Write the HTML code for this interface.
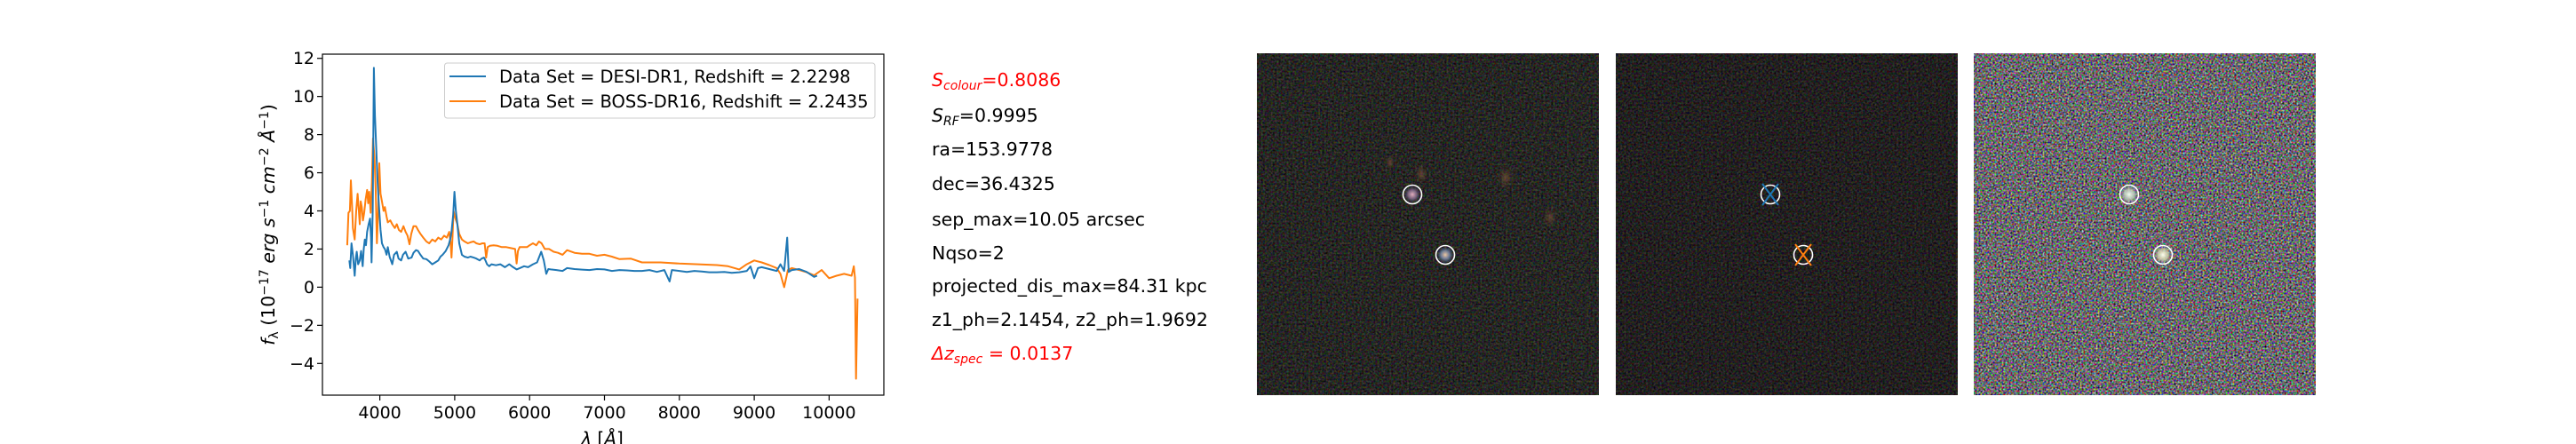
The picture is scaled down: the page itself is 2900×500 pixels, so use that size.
<!DOCTYPE html>
<html><head><meta charset="utf-8">
<style>
body{margin:0;background:#fff;}
#root{position:relative;width:2900px;height:500px;overflow:hidden;background:#fff;font-family:"DejaVu Sans","Liberation Sans",sans-serif;}
.info{position:absolute;left:1049px;font-size:20.5px;color:#000;white-space:nowrap;line-height:1;}
.red{color:#f00;}
.info sub{font-size:14px;vertical-align:-4px;}
</style></head>
<body>
<div id="root">
<svg id="chart" width="1050" height="500" style="position:absolute;left:0;top:0;" font-family="DejaVu Sans, Liberation Sans, sans-serif"></svg>

<div class="info red" style="top:80px"><i>S</i><sub><i>colour</i></sub>=0.8086</div>
<div class="info" style="top:120px"><i>S</i><sub><i>RF</i></sub>=0.9995</div>
<div class="info" style="top:158px">ra=153.9778</div>
<div class="info" style="top:197px">dec=36.4325</div>
<div class="info" style="top:237px">sep_max=10.05 arcsec</div>
<div class="info" style="top:275px">Nqso=2</div>
<div class="info" style="top:312px">projected_dis_max=84.31 kpc</div>
<div class="info" style="top:350px">z1_ph=2.1454, z2_ph=1.9692</div>
<div class="info red" style="top:388px"><i>Δz</i><sub><i>spec</i></sub> = 0.0137</div>

<svg width="2900" height="500" style="position:absolute;left:0;top:0;pointer-events:none">
<defs>
<filter id="nd" x="0" y="0" width="100%" height="100%" color-interpolation-filters="sRGB">
<feTurbulence type="fractalNoise" baseFrequency="0.45" numOctaves="2" seed="3"/>
<feColorMatrix values="0.5 0 0 0 -0.1  0 0.5 0 0 -0.1  0 0 0.5 0 -0.11  0 0 0 0 1"/>
</filter>
<filter id="nd2" x="0" y="0" width="100%" height="100%" color-interpolation-filters="sRGB">
<feTurbulence type="fractalNoise" baseFrequency="0.45" numOctaves="2" seed="11"/>
<feColorMatrix values="0.45 0 0 0 -0.09  0 0.45 0 0 -0.1  0 0 0.45 0 -0.1  0 0 0 0 1"/>
</filter>
<filter id="nb" x="0" y="0" width="100%" height="100%" color-interpolation-filters="sRGB">
<feTurbulence type="fractalNoise" baseFrequency="0.5" numOctaves="2" seed="7"/>
<feColorMatrix values="1.7 0 0 0 -0.43  0 1.7 0 0 -0.44  0 0 1.7 0 -0.42  0 0 0 0 1"/>
</filter>
<radialGradient id="g1"><stop offset="0" stop-color="#e6b0c0"/><stop offset="0.5" stop-color="#8a7090" stop-opacity="0.8"/><stop offset="1" stop-color="#303050" stop-opacity="0"/></radialGradient>
<radialGradient id="g2"><stop offset="0" stop-color="#f0c8a0"/><stop offset="0.5" stop-color="#7a8cb0" stop-opacity="0.8"/><stop offset="1" stop-color="#304060" stop-opacity="0"/></radialGradient>
<radialGradient id="g3"><stop offset="0" stop-color="#f4fff0"/><stop offset="0.6" stop-color="#b8c8b8" stop-opacity="0.8"/><stop offset="1" stop-color="#909090" stop-opacity="0"/></radialGradient>
<radialGradient id="g4"><stop offset="0" stop-color="#fffff0"/><stop offset="0.6" stop-color="#d0d0a8" stop-opacity="0.8"/><stop offset="1" stop-color="#909090" stop-opacity="0"/></radialGradient>
<radialGradient id="gf"><stop offset="0" stop-color="#8a6040" stop-opacity="0.6"/><stop offset="1" stop-color="#503020" stop-opacity="0"/></radialGradient>
</defs>
<g>
<rect x="1415" y="60" width="385" height="385" filter="url(#nd)"/>
<ellipse cx="1600" cy="196" rx="8" ry="12" fill="url(#gf)"/>
<ellipse cx="1695" cy="200" rx="10" ry="14" fill="url(#gf)"/>
<ellipse cx="1745" cy="245" rx="8" ry="12" fill="url(#gf)"/>
<ellipse cx="1565" cy="183" rx="6" ry="9" fill="url(#gf)"/>
<ellipse cx="1590" cy="219" rx="10" ry="10" fill="url(#g1)"/>
<ellipse cx="1627" cy="287" rx="10" ry="10" fill="url(#g2)"/>
<circle cx="1590" cy="219" r="10.5" fill="none" stroke="#fff" stroke-width="1.6"/>
<circle cx="1627" cy="287" r="10.5" fill="none" stroke="#fff" stroke-width="1.6"/>
</g>
<g>
<rect x="1819" y="60" width="385" height="385" filter="url(#nd2)"/>
<circle cx="1993" cy="219" r="10.5" fill="none" stroke="#fff" stroke-width="1.6"/>
<path d="M1984 207 L2002 231 M2002 207 L1984 231" stroke="#1f77b4" stroke-width="2"/>
<circle cx="2030" cy="287" r="10.5" fill="none" stroke="#fff" stroke-width="1.6"/>
<path d="M2021 275 L2039 299 M2039 275 L2021 299" stroke="#ff7f0e" stroke-width="2"/>
</g>
<g>
<rect x="2222" y="60" width="385" height="385" filter="url(#nb)"/>
<ellipse cx="2397" cy="219" rx="10" ry="10" fill="url(#g3)"/>
<ellipse cx="2435" cy="287" rx="10" ry="10" fill="url(#g4)"/>
<circle cx="2397" cy="219" r="10.5" fill="none" stroke="#fff" stroke-width="1.6"/>
<circle cx="2435" cy="287" r="10.5" fill="none" stroke="#fff" stroke-width="1.6"/>
</g>
</svg>
</div>
<script>
const xTicks=[4000,5000,6000,7000,8000,9000,10000];
const yTicks=[-4,-2,0,2,4,6,8,10,12];
const waveBlue=[3593,3605,3621,3640,3664,3680,3692,3710,3732,3750,3771,3785,3799,3815,3830,3850,3870,3882,3890,3905,3921,3935,3949,3970,3989,4010,4028,4050,4068,4090,4107,4130,4166,4190,4226,4250,4285,4310,4344,4380,4424,4450,4483,4510,4542,4580,4621,4660,4700,4740,4780,4810,4839,4880,4918,4940,4957,4980,4997,5015,5036,5060,5096,5130,5175,5210,5254,5290,5333,5360,5392,5410,5432,5460,5491,5550,5610,5670,5728,5780,5827,5870,5926,5980,6045,6100,6155,6190,6223,6250,6282,6360,6440,6500,6600,6700,6800,6900,7000,7100,7200,7300,7400,7500,7600,7700,7800,7870,7900,8000,8100,8200,8300,8400,8500,8600,8700,8800,8900,8950,9000,9050,9100,9200,9300,9350,9400,9440,9460,9500,9600,9700,9800,9840];
const fluxBlue=[1.4,1.0,2.3,1.7,0.6,1.5,1.86,1.2,1.4,1.9,1.1,2.0,2.5,2.2,2.9,3.3,3.6,2.6,1.3,4.0,11.5,9.0,7.6,5.5,4.2,3.0,2.3,2.1,2.0,1.7,2.1,1.6,1.2,1.7,1.86,1.5,1.4,1.7,1.86,1.5,1.55,1.8,1.94,1.9,1.7,1.5,1.47,1.35,1.2,1.3,1.4,1.6,1.7,1.9,2.2,2.5,2.9,3.8,5.0,4.0,3.3,2.3,1.7,1.6,1.55,1.6,1.55,1.5,1.4,1.5,1.55,1.4,1.2,1.1,1.2,1.15,1.2,1.05,1.2,1.05,0.93,1.0,1.1,1.05,1.2,1.3,1.86,1.4,0.7,0.95,0.93,0.9,0.85,1.0,0.95,0.92,0.9,0.95,0.93,0.85,0.9,0.88,0.85,0.85,0.9,0.8,0.9,0.3,0.9,0.85,0.8,0.85,0.82,0.78,0.78,0.8,0.75,0.78,0.85,1.09,0.47,1.0,1.05,0.95,0.85,1.2,0.85,2.6,0.8,0.9,0.95,0.8,0.54,0.6];
const waveOrange=[3565,3581,3600,3613,3630,3641,3664,3685,3704,3720,3732,3745,3759,3775,3791,3810,3830,3845,3858,3870,3878,3895,3909,3920,3929,3945,3961,3978,3993,4010,4028,4050,4068,4090,4107,4140,4166,4200,4226,4255,4285,4315,4344,4370,4396,4420,4450,4483,4510,4542,4580,4621,4660,4700,4740,4780,4820,4859,4895,4926,4945,4957,4970,4985,5010,5036,5060,5096,5130,5175,5210,5254,5290,5333,5370,5400,5420,5440,5471,5520,5570,5630,5689,5750,5807,5827,5845,5867,5920,5966,6000,6045,6090,6124,6160,6203,6260,6322,6380,6440,6500,6600,6700,6800,6900,7000,7100,7200,7350,7500,7750,8000,8250,8500,8650,8800,8900,9000,9100,9200,9300,9350,9400,9450,9500,9600,9700,9800,9900,10000,10100,10200,10300,10330,10345,10360,10380];
const fluxOrange=[2.2,3.9,4.0,5.6,4.2,3.1,2.5,4.0,4.9,4.0,3.3,4.5,4.2,3.5,3.9,4.6,5.1,4.4,5.0,4.4,3.9,5.5,7.8,7.2,6.8,5.0,2.3,4.0,6.5,4.9,4.5,4.0,4.2,3.7,3.4,3.5,3.3,3.1,3.3,3.0,2.9,3.2,2.9,2.7,2.25,2.8,3.2,3.2,3.0,2.8,2.6,2.4,2.3,2.5,2.4,2.6,2.5,2.7,2.6,2.9,2.3,1.55,2.6,4.0,3.6,3.3,2.8,2.5,2.4,2.3,2.35,2.4,2.3,2.25,2.3,2.3,1.55,2.1,2.17,2.2,2.17,2.1,2.1,2.05,2.0,1.24,1.9,2.1,2.1,2.1,2.2,2.3,2.2,2.4,2.3,2.0,2.0,1.86,1.8,1.7,1.94,1.8,1.75,1.75,1.65,1.7,1.6,1.47,1.5,1.3,1.3,1.24,1.2,1.16,1.1,0.93,1.2,1.4,1.3,1.16,1.0,0.7,0.0,0.9,1.0,0.9,0.78,0.62,0.9,0.47,0.6,0.7,0.6,1.1,0.5,-4.8,-0.6];

const NS='http://www.w3.org/2000/svg';
const svg=document.getElementById('chart');
const L=363,R=995,T=61,B=445;
function xs(v){return 427.6+(v-4000)*0.0843;}
function ys(v){return 65.7+(12-v)*21.475;}
function mk(tag,attrs,parent){const e=document.createElementNS(NS,tag);for(const k in attrs)e.setAttribute(k,attrs[k]);(parent||svg).appendChild(e);return e;}
const frame=mk('rect',{x:L,y:T,width:R-L,height:B-T,fill:'#fff',stroke:'none'});


function series(w,f,color,name){
  let d='';
  for(let i=0;i<w.length;i++){d+=(i?'L':'M')+xs(w[i]).toFixed(1)+' '+ys(f[i]).toFixed(1);}
  const p=mk('path',{d:d,fill:'none',stroke:color,'stroke-width':2,'stroke-linejoin':'round'});
  
  
}
series(waveOrange,fluxOrange,'#ff7f0e','boss-dr16-line');
series(waveBlue,fluxBlue,'#1f77b4','desi-dr1-line');
const border=mk('rect',{x:L,y:T,width:R-L,height:B-T,fill:'none',stroke:'#000','stroke-width':1.2});


xTicks.forEach(v=>{
  const x=xs(v);
  mk('line',{x1:x,x2:x,y1:B,y2:B+6,stroke:'#000','stroke-width':1.2});
  const t=mk('text',{x:x,y:B+26,'font-size':19,'text-anchor':'middle'});
  t.textContent=String(v);
  
  
});
yTicks.forEach(v=>{
  const y=ys(v);
  mk('line',{x1:L-6,x2:L,y1:y,y2:y,stroke:'#000','stroke-width':1.2});
  const t=mk('text',{x:L-9,y:y+6.5,'font-size':19,'text-anchor':'end'});
  t.textContent=v<0?'\u2212'+Math.abs(v):String(v);
  
  
});
const xl=mk('text',{x:678,y:501,'font-size':20,'text-anchor':'middle'});
xl.innerHTML='<tspan font-style="italic">λ</tspan> [<tspan font-style="italic">Å</tspan>]';


const yl=mk('text',{x:0,y:0,'font-size':20.5,'text-anchor':'middle',transform:'translate(309,253) rotate(-90)'});
yl.innerHTML='<tspan font-style="italic">f</tspan><tspan font-size="14" dy="4">λ</tspan><tspan dy="-4"> (10</tspan><tspan font-size="14" dy="-7">−17</tspan><tspan dy="7" font-style="italic"> erg s</tspan><tspan font-size="14" dy="-7">−1</tspan><tspan dy="7" font-style="italic"> cm</tspan><tspan font-size="14" dy="-7">−2</tspan><tspan dy="7" font-style="italic"> Å</tspan><tspan font-size="14" dy="-7">−1</tspan><tspan dy="7">)</tspan>';


const lg=mk('g',{});


mk('rect',{x:500.5,y:71,width:484.5,height:62,rx:3,fill:'#fff','fill-opacity':0.8,stroke:'#ccc','stroke-width':1},lg);
mk('line',{x1:506,x2:547,y1:86,y2:86,stroke:'#1f77b4','stroke-width':2},lg);
mk('line',{x1:506,x2:547,y1:114,y2:114,stroke:'#ff7f0e','stroke-width':2},lg);
const l1=mk('text',{x:562,y:93,'font-size':19.5},lg);
l1.textContent='Data Set = DESI-DR1, Redshift = 2.2298';


const l2=mk('text',{x:562,y:121,'font-size':19.5},lg);
l2.textContent='Data Set = BOSS-DR16, Redshift = 2.2435';


</script>
</body></html>
